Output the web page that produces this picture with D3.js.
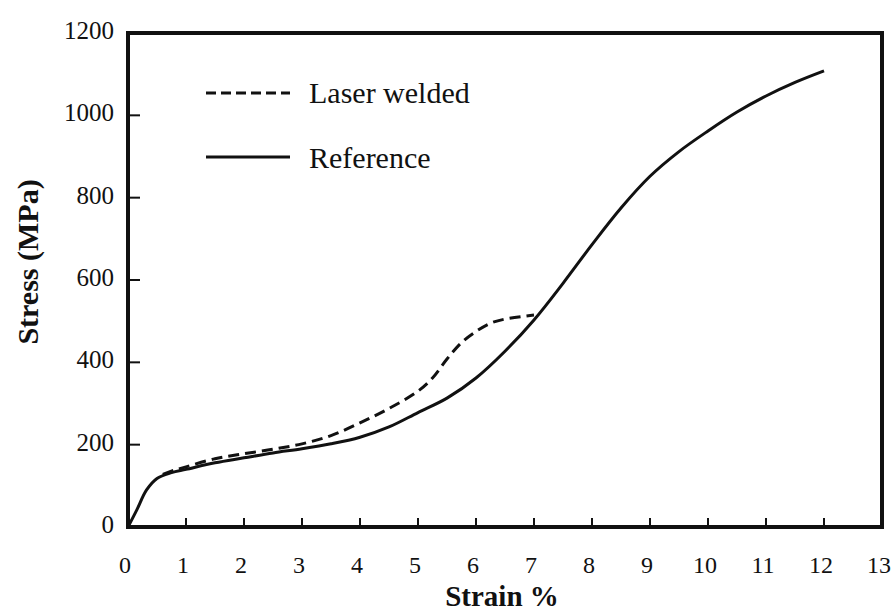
<!DOCTYPE html>
<html>
<head>
<meta charset="utf-8">
<script src="https://cdn.jsdelivr.net/npm/d3@7"></script>
<style>
  html, body { margin: 0; padding: 0; background: #fff; }
  svg { display: block; }
  text { font-family: "Liberation Serif", "Times New Roman", serif; fill: #111; }
</style>
</head>
<body>
<svg id="chart" width="891" height="616"></svg>
<script>
// Strain (%) / stress (MPa) readings for each specimen
const referenceStrain = [0, 0.15, 0.32, 0.5, 0.75, 1, 1.5, 2, 2.5, 3, 3.5, 4, 4.5, 5, 5.5, 6, 6.5, 7, 7.5, 8, 8.5, 9, 9.5, 10, 10.5, 11, 11.5, 12];
const referenceStress = [0, 41, 90, 118, 132, 140, 156, 168, 180, 190, 202, 218, 243, 278, 313, 362, 427, 503, 592, 686, 775, 852, 912, 962, 1008, 1047, 1080, 1108];

const weldedStrain = [0.6, 0.8, 1, 1.5, 2, 2.5, 3, 3.5, 4, 4.5, 5, 5.25, 5.5, 5.75, 6, 6.25, 6.5, 7];
const weldedStress = [128, 138, 146, 166, 178, 189, 202, 222, 253, 288, 330, 362, 408, 448, 475, 495, 505, 515];

const xTicks = [0, 1, 2, 3, 4, 5, 6, 7, 8, 9, 10, 11, 12, 13];
const yTicks = [0, 200, 400, 600, 800, 1000, 1200];

const seriesNames = ["Laser welded", "Reference"];
const xTitle = "Strain %";
const yTitle = "Stress (MPa)";

const svg = d3.select("#chart");
const margin = { left: 128, right: 9, top: 33, bottom: 89 };
const W = 891, H = 616;

const x = d3.scaleLinear().domain([0, 13]).range([margin.left, W - margin.right]);
const y = d3.scaleLinear().domain([0, 1200]).range([H - margin.bottom, margin.top]);

// inward tick marks
const gx = svg.append("g");
gx.selectAll("line").data(xTicks).join("line")
  .attr("x1", d => x(d)).attr("x2", d => x(d))
  .attr("y1", y(0)).attr("y2", y(0) - 9)
  .attr("stroke", "#111").attr("stroke-width", 2);
gx.selectAll("text").data(xTicks).join("text")
  .attr("x", d => x(d) - 3).attr("y", y(0) + 46)
  .attr("text-anchor", "middle")
  .attr("font-size", 24)
  .text(d => d);

const gy = svg.append("g");
gy.selectAll("line").data(yTicks).join("line")
  .attr("x1", x(0)).attr("x2", x(0) + 12)
  .attr("y1", d => y(d)).attr("y2", d => y(d))
  .attr("stroke", "#111").attr("stroke-width", 2);
gy.selectAll("text").data(yTicks).join("text")
  .attr("x", x(0) - 14).attr("y", d => y(d) + 6)
  .attr("text-anchor", "end")
  .attr("font-size", 25)
  .text(d => d);

// plot frame
svg.append("rect")
  .attr("x", x(0)).attr("y", y(1200))
  .attr("width", x(13) - x(0)).attr("height", y(0) - y(1200))
  .attr("fill", "none").attr("stroke", "#111").attr("stroke-width", 4);

// curves
const line = d3.line().x(d => x(d[0])).y(d => y(d[1])).curve(d3.curveCatmullRom.alpha(0.5));
const refData = d3.zip(referenceStrain, referenceStress);
const weldData = d3.zip(weldedStrain, weldedStress);

svg.append("path").datum(refData)
  .attr("d", line)
  .attr("fill", "none").attr("stroke", "#111").attr("stroke-width", 3);

svg.append("path").datum(weldData)
  .attr("d", line)
  .attr("fill", "none").attr("stroke", "#111").attr("stroke-width", 3)
  .attr("stroke-dasharray", "11,6");

// legend
const legend = svg.append("g");
const legendRows = [
  { name: seriesNames[0], dash: "10,5", lineY: 93, textY: 103 },
  { name: seriesNames[1], dash: null, lineY: 157, textY: 168 }
];
legendRows.forEach(r => {
  legend.append("line")
    .attr("x1", 206).attr("x2", 290)
    .attr("y1", r.lineY).attr("y2", r.lineY)
    .attr("stroke", "#111").attr("stroke-width", 3)
    .attr("stroke-dasharray", r.dash);
  legend.append("text")
    .attr("x", 309).attr("y", r.textY)
    .attr("font-size", 30)
    .text(r.name);
});

// axis titles
svg.append("text")
  .attr("x", (x(0) + x(13)) / 2 - 3).attr("y", 606)
  .attr("text-anchor", "middle")
  .attr("font-size", 29).attr("font-weight", "bold")
  .text(xTitle);

svg.append("text")
  .attr("transform", "translate(38," + 262 + ") rotate(-90)")
  .attr("text-anchor", "middle")
  .attr("font-size", 30).attr("font-weight", "bold")
  .text(yTitle);
</script>
</body>
</html>
